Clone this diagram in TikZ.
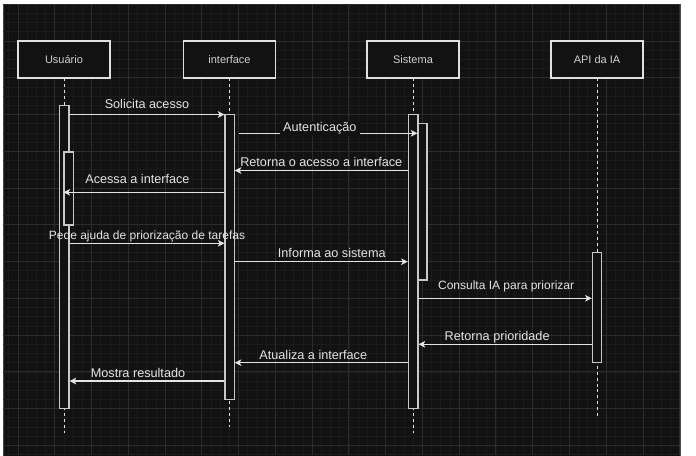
\documentclass[tikz,border=0pt]{standalone}
\usepackage{fontspec}
\setmainfont{Liberation Sans}
\usetikzlibrary{arrows.meta, fit, positioning}

\definecolor{canvas}{HTML}{121212}
\definecolor{gridminor}{HTML}{1B1B1B}
\definecolor{gridmajor}{HTML}{2B2B2B}
\definecolor{boxline}{HTML}{E0E0E0}
\definecolor{boxtext}{HTML}{D0D0D0}
\definecolor{msgline}{HTML}{E4E4E4}
\definecolor{barline}{HTML}{C8C8C8}

\begin{document}
\begin{tikzpicture}[x=0.75pt, y=-0.75pt,
    actor/.style={draw=boxline, fill=canvas, line width=0.8pt, minimum width=69pt, minimum height=27.75pt,
        text=boxtext, font=\fontsize{8.25}{10}\selectfont},
    lifeline/.style={draw=boxline, dash pattern=on 2.2pt off 2.2pt, line width=0.6pt},
    bar/.style={draw=barline, fill=canvas, line width=0.8pt, inner sep=0pt},
    msg/.style={draw=msgline, line width=0.8pt, -{Stealth[length=5pt, width=5pt, inset=1.3pt]}},
    lbl/.style={text=msgline, font=\fontsize{9.5}{11}\selectfont, anchor=base, inner sep=1pt, yshift=3pt}]

    \useasboundingbox (0,0) rectangle (696,455);
    \fill[white] (0,0) rectangle (696,455);
    \filldraw[fill=canvas, draw=gray!60!black, line width=0.5pt] (3,4) rectangle (680,456);

    % grid
    \begin{scope}
        \clip (3,4) rectangle (680,455);
        \foreach \i in {-1,...,72}
            \draw[gridminor, line width=0.5pt] ({18+9.19*\i},4) -- ({18+9.19*\i},455);
        \foreach \j in {-4,...,45}
            \draw[gridminor, line width=0.5pt] (3,{41+9.19*\j}) -- (680,{41+9.19*\j});
        \foreach \i in {0,...,18}
            \draw[gridmajor, line width=0.6pt] ({18+36.76*\i},4) -- ({18+36.76*\i},455);
        \foreach \j in {-1,...,11}
            \draw[gridmajor, line width=0.6pt] (3,{41+36.76*\j}) -- (680,{41+36.76*\j});
    \end{scope}

    % participants
    \node (usr)  [actor] at (64,59.5)    {Usuário};
    \node (intf) [actor] at (229.5,59.5) {interface};
    \node (sis)  [actor] at (413,59.5)   {Sistema};
    \node (api)  [actor] at (597,59.5)   {API da IA};

    \coordinate (usrEnd)  at (64,433);
    \coordinate (intfEnd) at (229.5,427);
    \coordinate (sisEnd)  at (413,433);
    \coordinate (apiEnd)  at (597,417);

    \draw[lifeline] (usr.south)  -- (usrEnd);
    \draw[lifeline] (intf.south) -- (intfEnd);
    \draw[lifeline] (sis.south)  -- (sisEnd);
    \draw[lifeline] (api.south)  -- (apiEnd);

    % activation bars
    \node (usrA)  [bar, fit={(59.4,105.3) (69,408.3)}] {};
    \node (usrB)  [bar, fit={(64,152) (73.2,225)}] {};
    \node (intfA) [bar, fit={(225,114.3) (234.2,399.3)}] {};
    \node (sisA)  [bar, fit={(408.3,114.7) (418,408.3)}] {};
    \node (sisB)  [bar, fit={(418,123.7) (427,280)}] {};
    \node (apiA)  [bar, fit={(592.3,252.3) (601.7,362.7)}] {};

    % messages
    \draw[msg] (usrA.east |- 0,114.5) -- node (lSol) [lbl, yshift=1.5pt] {Solicita acesso} (intfA.west |- 0,114.5);
    \coordinate (autStart) at (239.3,133.3);
    \draw[msg] (autStart) -- node (lAut) [lbl, fill=canvas, inner xsep=2.5pt, yshift=-1.9pt, xshift=-6.4pt] {Autenticação} (sisB.west |- autStart);
    \draw[msg] (sisA.west |- 0,170.5) -- node (lRet) [lbl] {Retorna o acesso a interface} (intfA.east |- 0,170.5);
    \draw[msg] (intfA.west |- 0,192.3) -- node (lAce) [lbl, yshift=3.75pt, xshift=-4.9pt] {Acessa a interface} (usrB.west |- 0,192.3);
    \draw[msg] (usrA.east |- 0,243.3) -- node (lPed) [lbl, font=\fontsize{9}{11}\selectfont] {Pede ajuda de priorização de tarefas} (intfA.west |- 0,243.3);
    \draw[msg] (intfA.east |- 0,261.7) -- node (lInf) [lbl, yshift=0.4pt, xshift=7.9pt] {Informa ao sistema} (sisA.west |- 0,261.7);
    \draw[msg] (sisA.east |- 0,298.3) -- node (lCon) [lbl, font=\fontsize{9}{11}\selectfont, yshift=3.6pt, xshift=0.75pt] {Consulta IA para priorizar} (apiA.west |- 0,298.3);
    \draw[msg] (apiA.west |- 0,344.3) -- node (lPri) [lbl, xshift=-6pt] {Retorna prioridade} (sisA.east |- 0,344.3);
    \draw[msg] (sisA.west |- 0,362.7) -- node (lAtu) [lbl, yshift=-0.4pt, xshift=-6pt] {Atualiza a interface} (intfA.east |- 0,362.7);
    \draw[msg] (intfA.west |- 0,381) -- node (lMos) [lbl, xshift=-6.75pt] {Mostra resultado} (usrA.east |- 0,381);
\end{tikzpicture}
\end{document}
